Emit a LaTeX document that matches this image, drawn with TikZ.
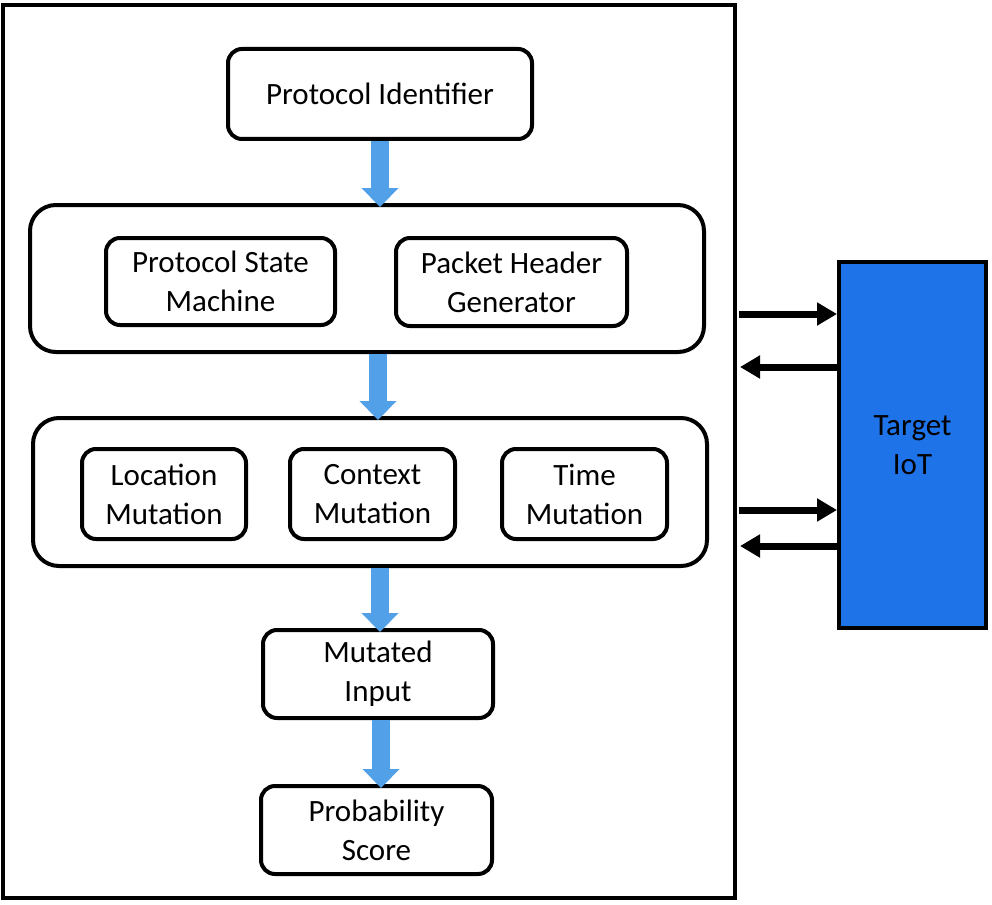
\documentclass[tikz,border=0pt]{standalone}
\usepackage{fontspec}
\setmainfont{Carlito}
\usetikzlibrary{arrows.meta,calc}
\definecolor{arrowblue}{RGB}{82,160,232}
\definecolor{targetblue}{RGB}{30,115,232}
\tikzset{
  box/.style={draw, line width=4pt, rounded corners=14pt, align=center, inner sep=0pt,
    font=\fontsize{31}{39}\selectfont},
  groupbox/.style={draw, line width=4pt, rounded corners=26pt, inner sep=0pt},
  flow/.style={draw=arrowblue, line width=18pt, -{Triangle[width=36pt,length=19pt,fill=arrowblue]}},
  link/.style={line width=7pt, -{Triangle[width=22pt,length=20pt]}},
}
\begin{document}
\begin{tikzpicture}[x=1pt,y=-1pt]
\useasboundingbox (0,0) rectangle (992,904);
% outer frame
\node[draw, line width=4pt, minimum width=732pt, minimum height=893pt, inner sep=0pt] (frame) at (369,451.5) {};
% top box
\node[box, minimum width=304pt, minimum height=90pt] (pid) at (380,94) {Protocol Identifier};
% group 1
\node[groupbox, minimum width=674pt, minimum height=147pt] (g1) at (367,278.5) {};
\node[box, minimum width=229pt, minimum height=87pt] (psm) at (220.5,281.5) {Protocol State\\Machine};
\node[box, minimum width=231pt, minimum height=88pt] (phg) at (511.5,282) {Packet Header\\Generator};
% group 2
\node[groupbox, minimum width=674pt, minimum height=148pt] (g2) at (370,492) {};
\node[box, minimum width=164pt, minimum height=90pt] (loc) at (164,494) {Location\\Mutation};
\node[box, minimum width=165pt, minimum height=90pt] (ctx) at (372.5,494) {Context\\Mutation};
\node[box, minimum width=165pt, minimum height=90pt] (tim) at (584.5,494) {Time\\Mutation};
% lower boxes
\node[box, minimum width=230pt, minimum height=88pt] (mi) at (378,674) {Mutated\\Input};
\node[box, minimum width=231pt, minimum height=88pt] (ps) at (376.5,830) {Probability\\Score};
% target
\node[draw, line width=4pt, fill=targetblue, minimum width=147pt, minimum height=366pt, inner sep=0pt, align=center, font=\fontsize{31}{39}\selectfont] (tgt) at (912.5,445) {Target\\IoT};
% blue flow arrows
\coordinate (a1) at (380,0);
\coordinate (a2) at (378,0);
\coordinate (a3) at (380,0);
\coordinate (a4) at (381,0);
\draw[flow] (pid.south -| a1) -- ([yshift=-4pt]g1.north -| a1);
\draw[flow] (g1.south -| a2) -- ([yshift=-4pt]g2.north -| a2);
\draw[flow] (g2.south -| a3) -- ([yshift=-4pt]mi.north -| a3);
\draw[flow] (mi.south -| a4) -- ([yshift=-4pt]ps.north -| a4);
% black links
\coordinate (y1) at (0,314);
\coordinate (y2) at (0,367);
\coordinate (y3) at (0,510);
\coordinate (y4) at (0,546);
\draw[link] ([xshift=2pt]frame.east |- y1) -- (tgt.west |- y1);
\draw[link] (tgt.west |- y2) -- ([xshift=3pt]frame.east |- y2);
\draw[link] ([xshift=2pt]frame.east |- y3) -- (tgt.west |- y3);
\draw[link] (tgt.west |- y4) -- ([xshift=3pt]frame.east |- y4);
\end{tikzpicture}
\end{document}
